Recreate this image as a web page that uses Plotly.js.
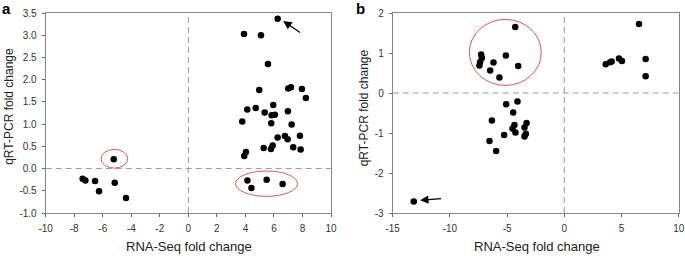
<!DOCTYPE html>
<html>
<head>
<meta charset="utf-8">
<script src="https://cdn.plot.ly/plotly-3.0.1.min.js"></script>
<style>html,body{margin:0;padding:0;background:#fff;}#chart{width:685px;height:256px;}</style>
</head>
<body>
<div id="chart"></div>
<script>
// Panel a: RNA-Seq fold change (x) vs qRT-PCR fold change (y)
const aRnaSeq = [6.26, 3.90, 5.09, 5.58, 4.97, 7.00, 7.19, 7.96, 8.24, 4.13, 4.72, 5.95, 5.35, 5.84, 6.07, 6.98,
  3.78, 5.81, 7.24, 6.26, 6.77, 6.96, 7.82, 5.28, 5.79, 5.91, 7.35, 7.87, 4.04, 3.92,
  -5.23, 4.14, 4.42, 5.49, 6.61, -7.41, -7.22, -6.54, -6.26, -5.16, -4.37];
const aQpcr = [3.37, 3.03, 3.00, 2.35, 1.77, 1.80, 1.83, 1.79, 1.59, 1.33, 1.36, 1.43, 1.26, 1.20, 1.21, 1.29,
  1.06, 1.02, 0.99, 0.70, 0.73, 0.66, 0.74, 0.46, 0.44, 0.52, 0.48, 0.43, 0.37, 0.28,
  0.21, -0.27, -0.44, -0.25, -0.35, -0.23, -0.27, -0.28, -0.51, -0.32, -0.66];

// Panel b
const bRnaSeq = [-4.29, -7.27, -7.21, -7.36, -7.42, -6.19, -5.11, -4.03, -6.48, -5.67,
  6.53, 3.62, 4.00, 4.14, 4.78, 5.04, 7.11, 7.11,
  -5.08, -4.09, -4.47, -6.33, -3.30, -4.36, -3.48, -4.53, -4.27, -3.36, -3.48, -5.26, -6.54, -5.96,
  -13.16];
const bQpcr = [1.65, 0.96, 0.875, 0.775, 0.69, 0.76, 0.935, 0.675, 0.56, 0.385,
  1.725, 0.72, 0.77, 0.79, 0.86, 0.80, 0.85, 0.42,
  -0.28, -0.21, -0.49, -0.69, -0.75, -0.80, -0.86, -0.89, -0.99, -1.02, -1.09, -1.05, -1.20, -1.45,
  -2.71];

// Tick values
const aXTicks = [-10, -8, -6, -4, -2, 0, 2, 4, 6, 8, 10];
const aYTicks = [-1.0, -0.5, 0.0, 0.5, 1.0, 1.5, 2.0, 2.5, 3.0, 3.5];
const bXTicks = [-15, -10, -5, 0, 5, 10];
const bYTicks = [-3, -2, -1, 0, 1, 2];

// Highlight ellipses (data coords: x0, x1, y0, y1)
const aEllipseSmall = [-6.12, -4.25, 0.01, 0.43];
const aEllipseLarge = [3.31, 7.66, -0.625, -0.055];
const bEllipse = [-8.30, -2.01, 0.19, 1.84];
// Arrows (head x, head y, tail x, tail y)
const aArrow = [6.65, 3.32, 7.94, 3.04];
const bArrow = [-12.61, -2.68, -10.64, -2.64];

const W = 685, H = 256, mT = 12.7, mB = 43.3;
const plotH = H - mT - mB;
const px2x = p => p / W;
const px2y = p => (H - mB - p) / plotH;

const FONT = 'Arial, "Liberation Sans", sans-serif';
const marker = {color: '#000', size: 6.5};

const traces = [
  {x: aRnaSeq, y: aQpcr, type: 'scatter', mode: 'markers', marker: marker, xaxis: 'x', yaxis: 'y', hoverinfo: 'none'},
  {x: bRnaSeq, y: bQpcr, type: 'scatter', mode: 'markers', marker: marker, xaxis: 'x2', yaxis: 'y2', hoverinfo: 'none'}
];

function axisX(domain, range, ticks, anchor) {
  return {
    domain: domain, range: range, tickvals: ticks, ticktext: ticks.map(String),
    ticks: 'outside', ticklen: 3, tickcolor: '#666', tickwidth: 1,
    showline: true, linecolor: '#888', linewidth: 1, mirror: true,
    showgrid: false, zeroline: false, anchor: anchor,
    tickfont: {family: FONT, size: 10, color: '#333'}, ticklabelstandoff: 3,
    fixedrange: true
  };
}
function axisY(range, ticks, fmt, anchor) {
  return {
    domain: [0, 1], range: range, tickvals: ticks, ticktext: ticks.map(v => fmt(v)),
    ticks: 'outside', ticklen: 3, tickcolor: '#666', tickwidth: 1,
    showline: true, linecolor: '#888', linewidth: 1, mirror: true,
    showgrid: false, zeroline: false, anchor: anchor,
    tickfont: {family: FONT, size: 10, color: '#333'}, ticklabelstandoff: 3,
    fixedrange: true
  };
}

const dashLine = {color: '#999', width: 1, dash: '6px,4px'};
const redLine = {color: '#e2534f', width: 1};

function ellipse(e, xr, yr) {
  return {type: 'circle', xref: xr, yref: yr, x0: e[0], x1: e[1], y0: e[2], y1: e[3], line: redLine};
}
function arrow(a, xr, yr) {
  return {x: a[0], y: a[1], ax: a[2], ay: a[3], xref: xr, yref: yr, axref: xr, ayref: yr,
    showarrow: true, arrowhead: 2, arrowsize: 1.3, arrowwidth: 1.3, arrowcolor: '#000', text: '', standoff: 0};
}
function label(text, x, y, size, angle, bold) {
  return {text: bold ? '<b>' + text + '</b>' : text, x: px2x(x), y: px2y(y), xref: 'paper', yref: 'paper',
    showarrow: false, xanchor: 'center', yanchor: 'middle', textangle: angle || 0,
    font: {family: FONT, size: size, color: bold ? '#000' : '#222'}};
}

const layout = {
  width: W, height: H,
  margin: {l: 0, r: 0, t: mT, b: mB, pad: 0},
  paper_bgcolor: '#fff', plot_bgcolor: '#fff',
  showlegend: false,
  xaxis: axisX([px2x(45.7), px2x(331)], [-10, 10], aXTicks, 'y'),
  yaxis: axisY([-1, 3.5], aYTicks, v => v.toFixed(1), 'x'),
  xaxis2: axisX([px2x(392.7), px2x(678.7)], [-15, 10], bXTicks, 'y2'),
  yaxis2: axisY([-3, 2], bYTicks, v => String(v), 'x2'),
  shapes: [
    {type: 'line', xref: 'x', yref: 'y domain', x0: 0, x1: 0, y0: 0, y1: 1, line: dashLine},
    {type: 'line', xref: 'x domain', yref: 'y', x0: 0, x1: 1, y0: 0, y1: 0, line: dashLine},
    {type: 'line', xref: 'x2', yref: 'y2 domain', x0: 0, x1: 0, y0: 0, y1: 1, line: dashLine},
    {type: 'line', xref: 'x2 domain', yref: 'y2', x0: 0, x1: 1, y0: 0, y1: 0, line: dashLine},
    ellipse(aEllipseSmall, 'x', 'y'),
    ellipse(aEllipseLarge, 'x', 'y'),
    ellipse(bEllipse, 'x2', 'y2')
  ],
  annotations: [
    arrow(aArrow, 'x', 'y'),
    arrow(bArrow, 'x2', 'y2'),
    label('RNA-Seq fold change', 189, 246.5, 13, 0, false),
    label('RNA-Seq fold change', 536.5, 246.5, 13, 0, false),
    label('qRT-PCR fold change', 9, 106.5, 12, -90, false),
    label('qRT-PCR fold change', 363.5, 107.5, 12, -90, false),
    label('a', 6.5, 8, 15, 0, true),
    label('b', 360.5, 8, 15, 0, true)
  ]
};

Plotly.newPlot('chart', traces, layout, {staticPlot: true, displayModeBar: false});
</script>
</body>
</html>
